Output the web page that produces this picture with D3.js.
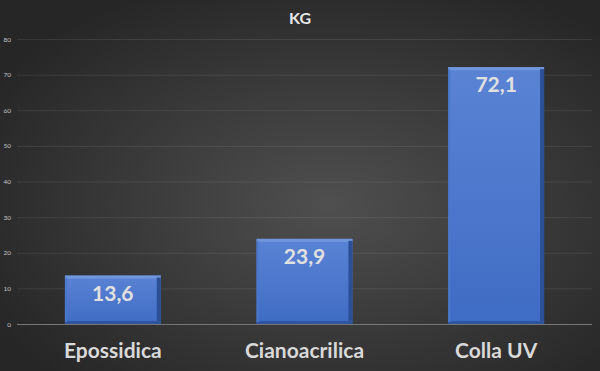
<!DOCTYPE html>
<html>
<head>
<meta charset="utf-8">
<script src="https://cdn.jsdelivr.net/npm/d3@7"></script>
<style>
  html, body { margin: 0; padding: 0; background: #333; }
  svg { display: block; }
</style>
</head>
<body>
<svg id="chart" width="600" height="371"></svg>
<script>
const title = 'KG';
const categories = ['Epossidica', 'Cianoacrilica', 'Colla UV'];
const values = [13.6, 23.9, 72.1];
const valueLabels = ['13,6', '23,9', '72,1'];
const yTicks = [0, 10, 20, 30, 40, 50, 60, 70, 80];

const svg = d3.select('#chart');
const width = +svg.attr('width');
const height = +svg.attr('height');
const margin = { top: 39, right: 8, bottom: 47, left: 17 };

const defs = svg.append('defs');
const bg = defs.append('radialGradient')
  .attr('id', 'bg')
  .attr('cx', '55%').attr('cy', '55%').attr('r', '65%');
bg.append('stop').attr('offset', '0%').attr('stop-color', '#4f4f4f');
bg.append('stop').attr('offset', '100%').attr('stop-color', '#262626');

const barGrad = defs.append('linearGradient')
  .attr('id', 'barFill')
  .attr('x1', 0).attr('y1', 0).attr('x2', 0).attr('y2', 1);
barGrad.append('stop').attr('offset', '0%').attr('stop-color', '#5a83d4');
barGrad.append('stop').attr('offset', '100%').attr('stop-color', '#3f6cc4');

svg.append('rect')
  .attr('width', width).attr('height', height)
  .attr('fill', 'url(#bg)');

const x = d3.scaleBand()
  .domain(categories)
  .range([margin.left, width - margin.right])
  .paddingInner(0.5)
  .paddingOuter(0.25);

const y = d3.scaleLinear()
  .domain([0, 80])
  .range([height - margin.bottom, margin.top]);

// gridlines
svg.append('g')
  .selectAll('line')
  .data(yTicks.filter(d => d > 0))
  .join('line')
  .attr('x1', margin.left).attr('x2', width - margin.right)
  .attr('y1', d => y(d) + 0.5).attr('y2', d => y(d) + 0.5)
  .attr('stroke', '#ffffff').attr('stroke-opacity', 0.09).attr('stroke-width', 1);

// y axis labels
const yAxis = d3.axisLeft(y).tickValues(yTicks).tickSize(0).tickPadding(6);
svg.append('g')
  .attr('transform', `translate(${margin.left},0)`)
  .call(yAxis)
  .call(g => g.select('.domain').remove())
  .selectAll('text')
  .attr('fill', '#c4c4c4')
  .style('font-family', 'Lato, sans-serif')
  .style('font-size', '6.5px');

// bars
const bars = svg.append('g')
  .selectAll('g')
  .data(categories)
  .join('g');

bars.append('rect')
  .attr('x', d => x(d))
  .attr('y', (d, i) => y(values[i]))
  .attr('width', x.bandwidth())
  .attr('height', (d, i) => y(0) - y(values[i]))
  .attr('fill', 'url(#barFill)');

// bevel: light top edge, dark right/bottom edges
bars.append('rect')
  .attr('x', d => x(d))
  .attr('y', (d, i) => y(values[i]))
  .attr('width', x.bandwidth())
  .attr('height', 3)
  .attr('fill', '#7096dc');
bars.append('rect')
  .attr('x', d => x(d) + x.bandwidth() - 4)
  .attr('y', (d, i) => y(values[i]) + 2)
  .attr('width', 4)
  .attr('height', (d, i) => y(0) - y(values[i]) - 2)
  .attr('fill', '#2c4f96');
bars.append('rect')
  .attr('x', d => x(d))
  .attr('y', y(0) - 3)
  .attr('width', x.bandwidth())
  .attr('height', 3)
  .attr('fill', '#2f55a0');
bars.append('rect')
  .attr('x', d => x(d))
  .attr('y', (d, i) => y(values[i]) + 2)
  .attr('width', 2)
  .attr('height', (d, i) => y(0) - y(values[i]) - 4)
  .attr('fill', '#4a78cc');

bars.append('text')
  .attr('x', d => x(d) + x.bandwidth() / 2)
  .attr('y', (d, i) => y(values[i]) + 25)
  .attr('text-anchor', 'middle')
  .attr('fill', '#e0e0e0')
  .style('font-family', 'Lato, sans-serif')
  .style('font-weight', 'bold')
  .style('font-size', '21px')
  .text((d, i) => valueLabels[i]);

// baseline
svg.append('line')
  .attr('x1', margin.left).attr('x2', width - margin.right)
  .attr('y1', y(0) + 0.5).attr('y2', y(0) + 0.5)
  .attr('stroke', '#767676').attr('stroke-width', 1.2);

// category labels
const xAxis = d3.axisBottom(x).tickSize(0).tickPadding(19);
svg.append('g')
  .attr('transform', `translate(0,${y(0)})`)
  .call(xAxis)
  .call(g => g.select('.domain').remove())
  .selectAll('text')
  .attr('fill', '#d9d9d9')
  .style('font-family', 'Lato, sans-serif')
  .style('font-weight', 'bold')
  .style('font-size', '21px');

svg.append('text')
  .attr('x', width / 2)
  .attr('y', 24)
  .attr('text-anchor', 'middle')
  .attr('fill', '#e8e8e8')
  .style('font-family', 'Lato, sans-serif')
  .style('font-weight', 'bold')
  .style('font-size', '16px')
  .text(title);
</script>
</body>
</html>
